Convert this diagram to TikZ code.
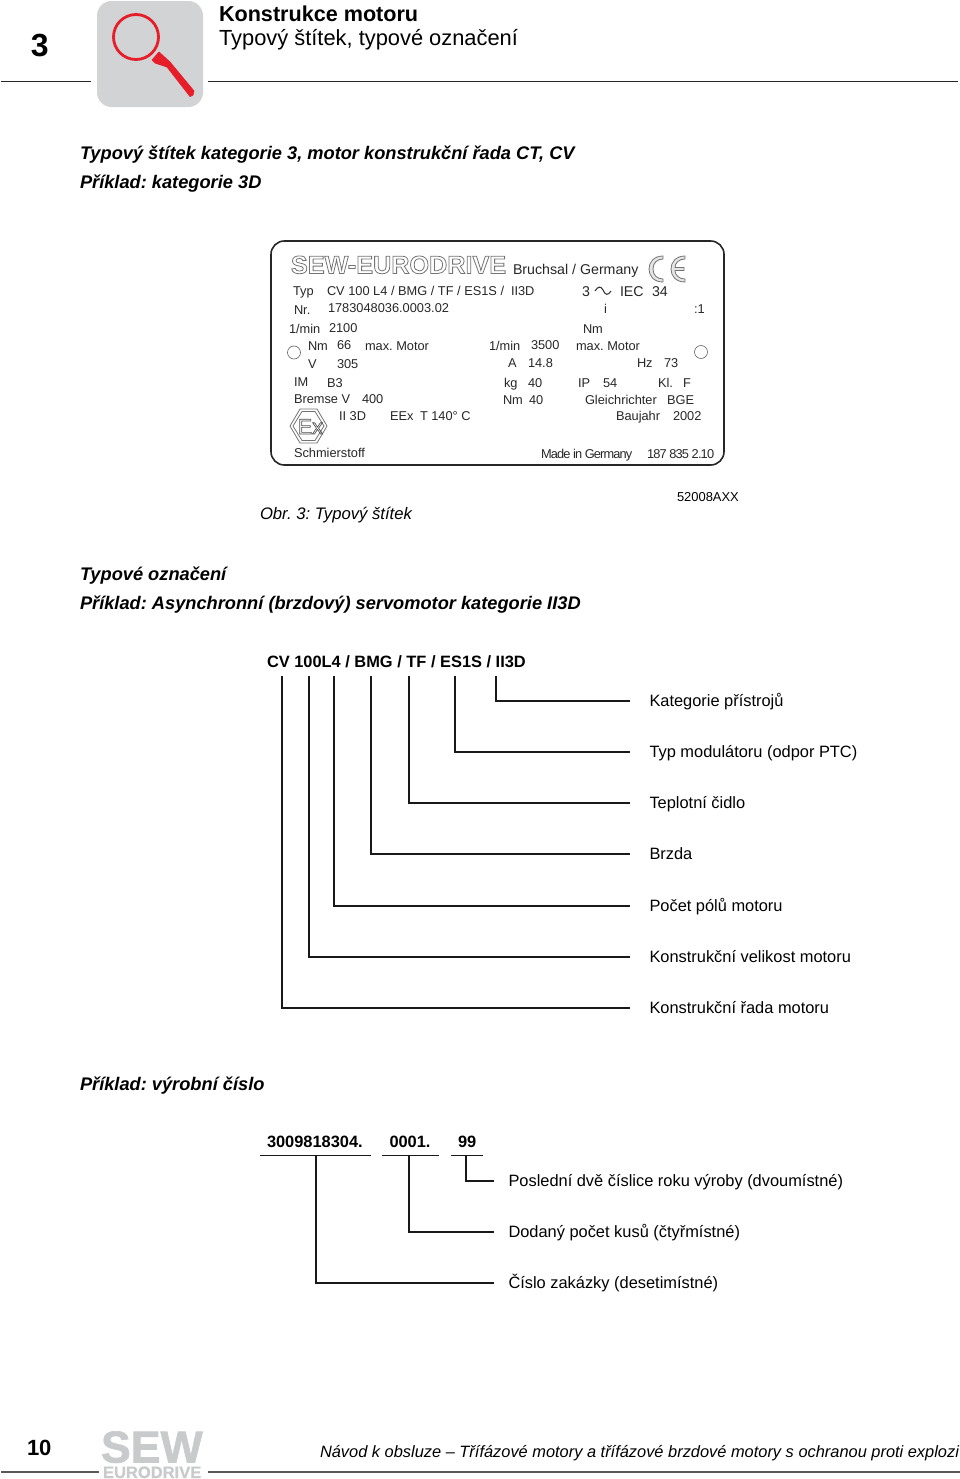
\documentclass[tikz,border=0pt]{standalone}
\usepackage{fontspec}
\setmainfont{Liberation Sans}
\usetikzlibrary{calc}
\definecolor{iconbg}{RGB}{209,211,212}
\definecolor{iconred}{RGB}{230,30,42}
\definecolor{logogray}{RGB}{200,202,204}
\frenchspacing
\tikzset{
  txt/.style={inner sep=0pt,outer sep=0pt,anchor=base west,text=black},
  plate/.style={txt,font=\fontsize{9.6}{11}\selectfont,text=black!85},
  platebig/.style={txt,font=\fontsize{10.65}{12}\selectfont,text=black!85},
  lab/.style={inner sep=0pt,outer sep=0pt,anchor=west,text height=9.75pt,text depth=2.25pt,font=\fontsize{12.3}{15}\selectfont},
  sect/.style={txt,font=\bfseries\itshape\fontsize{13.68}{14}\selectfont},
  codetxt/.style={txt,font=\bfseries\fontsize{12.3}{15}\selectfont},
  rule/.style={line width=0.75pt,black!85},
  brk/.style={line width=1.05pt,black!90},
  footrule/.style={line width=1pt,black!65},
  platefaint/.style={black!55,line width=0.6pt},
}
\begin{document}
\begin{tikzpicture}[x=0.75pt,y=-0.75pt]
\useasboundingbox (0,0) rectangle (960,1479);
% header
\node[txt,font=\bfseries\fontsize{24}{24}\selectfont] (chap) at (31,56) {3};
\coordinate (r1a) at (1,81); \coordinate (r1b) at (91,81);
\coordinate (r2a) at (208,81); \coordinate (r2b) at (958,81);
\draw[rule] (r1a) -- (r1b);
\draw[rule] (r2a) -- (r2b);
\fill[iconbg,rounded corners=11pt] (97,1) rectangle (203,107);
\draw[iconred,line width=2.1pt] (136,37) circle (22.5);
\fill[iconred,draw=iconred,line width=0.5pt,line join=round] (152,60) -- (159,52) -- (170,62) -- (194,91) -- (193,95) -- (190,96.5) -- (167,67) -- (155,63) -- cycle;
\node[txt,font=\bfseries\fontsize{16.2}{16}\selectfont] (h1) at (219,21) {Konstrukce motoru};
\node[txt,font=\fontsize{16.4}{16}\selectfont] (h2) at (219,45) {Typový štítek, typové označení};
% section 1
\node[sect] (s1) at (80,159) {Typový štítek kategorie 3, motor konstrukční řada CT, CV};
\node[sect] (s2) at (80,188) {Příklad: kategorie 3D};
% plate
\draw[line width=1.2pt,black!85,rounded corners=10pt] (271,241) rectangle (724,465);
\node[txt,font=\bfseries\fontsize{18.9}{19}\selectfont,text=white] (sew) at (291,273.5)
  {\special{pdf:code 0.6 w 1 Tr 0.45 G}SEW-EURODRIVE\special{pdf:code 0 Tr 0 G}};
\node[platebig] (p0) at (513,274) {Bruchsal / Germany};
\draw[platefaint,fill=black!10] (663,256) .. controls (654,256) and (649,262) .. (649,269) .. controls (649,276) and (654,282) .. (663,282) -- (663,279) .. controls (657,279) and (653,275) .. (653,269) .. controls (653,263) and (657,259) .. (663,259) -- cycle;
\draw[platefaint,fill=black!10] (685,256) .. controls (676,256) and (671,262) .. (671,269) .. controls (671,276) and (676,282) .. (685,282) -- (685,279) .. controls (679,279) and (675,275) .. (675,270.5) -- (684,270.5) -- (684,267.5) -- (675,267.5) .. controls (675,263) and (679,259) .. (685,259) -- cycle;
\node[platebig] (a4) at (582,296) {3};
\node[platebig] (a5) at (620,296) {IEC};
\node[platebig] (a6) at (652,296) {34};
\foreach \n/\x/\y/\t in {
 a1/293/295/Typ, a2/327/295/{CV 100 L4 / BMG / TF / ES1S /}, a3/511/295/II3D,
 b1/294/314/Nr., b2/328/312/1783048036.0003.02, b3/604/313/i, b4/694/313/:1,
 c1/289/333/{1/min}, c2/329/332/2100, c3/583/333/Nm,
 d1/308/350/Nm, d2/337/349/66, d3/365/350/max. Motor, d4/489/350/{1/min}, d5/531/349/3500, d6/576/350/max. Motor,
 e1/308/368/V, e2/337/368/305, e3/508/367/A, e4/528/367/14.8, e5/637/367/Hz, e6/664/367/73,
 f1/294/386/IM, f2/327/387/B3, f3/504/387/kg, f4/528/387/40, f5/578/387/IP, f6/603/387/54, f7/658/387/Kl., f8/683/387/F,
 g1/294/403/Bremse V, g2/362/403/400, g3/503/404/Nm, g4/529/404/40, g5/585/404/Gleichrichter, g6/667/404/BGE,
 h1p/339/420/II 3D, h2p/390/420/EEx, h3p/420/420/T 140° C, h4p/616/420/Baujahr, h5p/673/420/2002,
 i1/294/457/Schmierstoff}
 {\node[plate] (\n) at (\x,\y) {\t};}
\node[plate,font=\fontsize{9.6}{11}\selectfont\addfontfeatures{LetterSpace=-6.8}] (i2) at (541,458) {Made in Germany};
\node[plate,font=\fontsize{9.6}{11}\selectfont\addfontfeatures{LetterSpace=-6.6}] (i3) at (647,458) {187 835 2.10};
\draw[black!60,line width=0.5pt] (294,352.5) circle (6.5);
\draw[black!60,line width=0.5pt] (701,352) circle (6.5);
\draw[black!80,line width=0.8pt] (595,291) .. controls (598,286) and (601,286) .. (603,290) .. controls (605,295) and (608,296) .. (611,291);
\draw[platefaint] (290,426) -- (300,409) -- (317,409) -- (327,426) -- (317,443) -- (300,443) -- cycle;
\draw[platefaint] (293,426) -- (302,411.5) -- (315,411.5) -- (324,426) -- (315,440.5) -- (302,440.5) -- cycle;
\node[txt,font=\fontsize{16}{16}\selectfont,text=white] (ex) at (298,434)
  {\special{pdf:code 0.5 w 1 Tr 0.3 G}Ex\special{pdf:code 0 Tr 0 G}};
\node[txt,font=\itshape\fontsize{12.5}{14}\selectfont] (fig) at (260,519) {Obr. 3: Typový štítek};
\node[txt,font=\fontsize{9.7}{11}\selectfont] (figc) at (677,501) {52008AXX};
% section 2
\node[sect] (s3) at (80,580) {Typové označení};
\node[sect] (s4) at (80,609) {Příklad: Asynchronní (brzdový) servomotor kategorie II3D};
\node[codetxt] (code) at (267,667) {CV 100L4 / BMG / TF / ES1S / II3D};
\foreach \n/\y/\t in {k1/701/Kategorie přístrojů, k2/752/Typ modulátoru (odpor PTC), k3/803/Teplotní čidlo,
  k4/854/Brzda, k5/906/Počet pólů motoru, k6/957/Konstrukční velikost motoru, k7/1008/Konstrukční řada motoru}
 {\node[lab] (\n) at (649.5,\y) {\t};}
\foreach \n/\x in {k1/496,k2/455,k3/409,k4/371,k5/334,k6/309,k7/282}{
 \coordinate (t\n) at (\x,676);
 \draw[brk] (t\n) |- ([xshift=-14.6pt]\n.west);
}
% section 3
\node[sect] (s5) at (80,1090) {Příklad: výrobní číslo};
\node[codetxt] (n1) at (267,1147) {3009818304.};
\node[codetxt] (n2) at (389.5,1147) {0001.};
\node[codetxt] (n3) at (458,1147) {99};
\coordinate (u1a) at (260,1155.5); \coordinate (u1b) at (371,1155.5);
\coordinate (u2a) at (382,1155.5); \coordinate (u2b) at (439,1155.5);
\coordinate (u3a) at (451,1155.5); \coordinate (u3b) at (483,1155.5);
\draw[brk] (u1a) -- (u1b);
\draw[brk] (u2a) -- (u2b);
\draw[brk] (u3a) -- (u3b);
\node[lab] (m1) at (508.5,1181) {Poslední dvě číslice roku výroby (dvoumístné)};
\node[lab] (m2) at (508.5,1232) {Dodaný počet kusů (čtyřmístné)};
\node[lab] (m3) at (508.5,1283) {Číslo zakázky (desetimístné)};
\foreach \n/\x in {m1/466,m2/409,m3/316}{
 \coordinate (t\n) at (\x,1155.5);
 \draw[brk] (t\n) |- ([xshift=-10.6pt]\n.west);
}
% footer
\node[txt,font=\bfseries\fontsize{16.5}{16.5}\selectfont] (pg) at (27,1455) {10};
\coordinate (f1a) at (1,1472); \coordinate (f1b) at (99,1472);
\coordinate (f2a) at (208,1472); \coordinate (f2b) at (960,1472);
\draw[footrule] (f1a) -- (f1b);
\draw[footrule] (f2a) -- (f2b);
\node[txt,font=\bfseries\fontsize{33.5}{34}\selectfont\addfontfeatures{FakeBold=1.5},text=logogray] (lg1) at (101,1462.5) {SEW};
\node[txt,font=\bfseries\fontsize{12.4}{13}\selectfont\addfontfeatures{FakeBold=1},text=logogray] (lg2) at (103,1478) {EURODRIVE};
\node[txt,font=\itshape\fontsize{12.3}{15}\selectfont,anchor=base east] (foot) at (959,1457) {Návod k obsluze -- Třífázové motory a třífázové brzdové motory s ochranou proti explozi};
\end{tikzpicture}
\end{document}
